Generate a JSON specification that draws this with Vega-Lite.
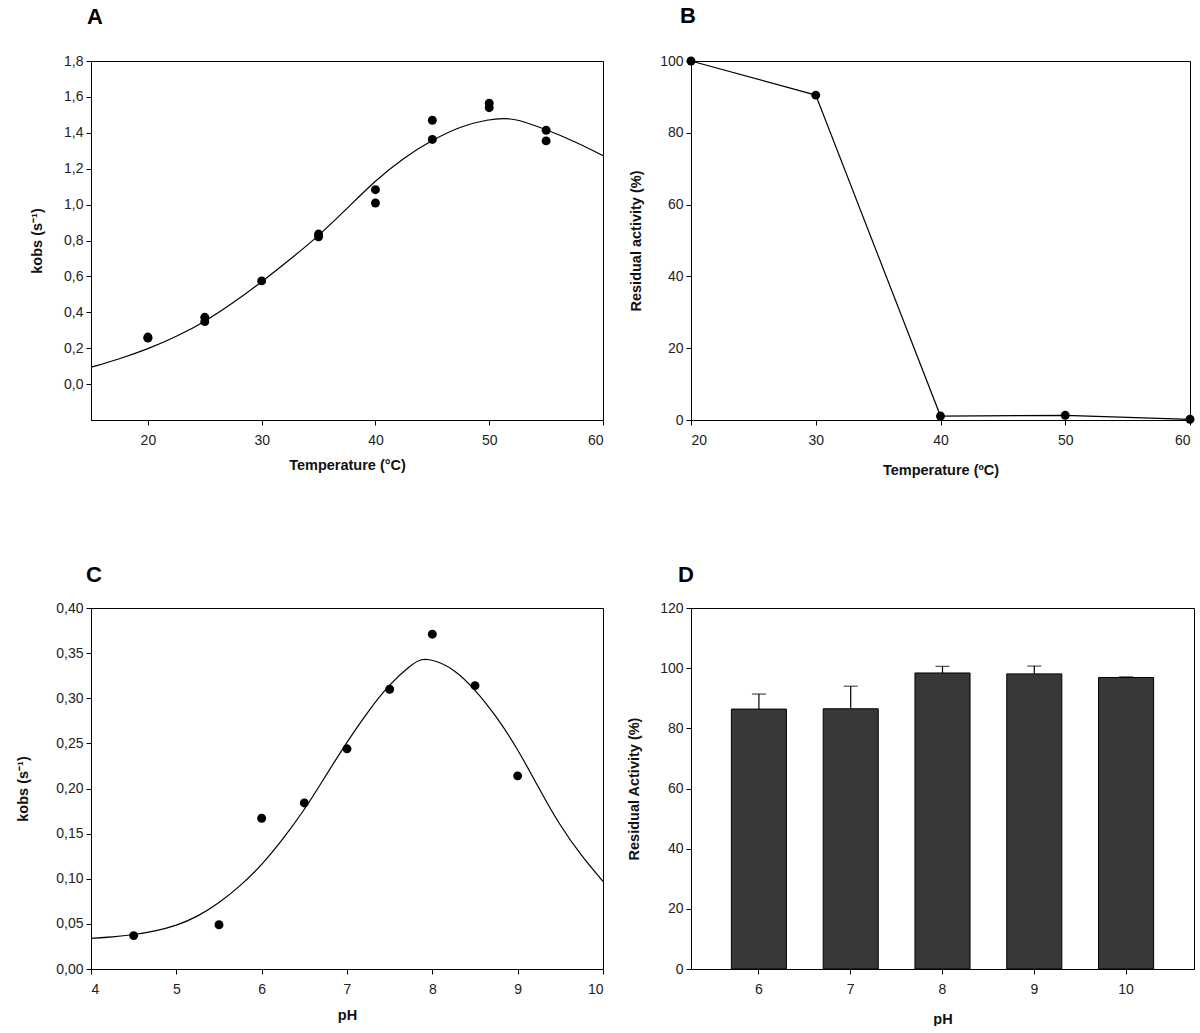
{
  "$schema": "https://vega.github.io/schema/vega-lite/v6.json",
  "background": "white",
  "padding": {"left": 15, "top": 4, "right": 0, "bottom": 0},
  "columns": 2,
  "align": "each",
  "spacing": {"row": 86, "column": 22},
  "datasets": {
    "tempPts": [
      {"t": 20, "k": 0.262}, {"t": 20, "k": 0.256},
      {"t": 25, "k": 0.372}, {"t": 25, "k": 0.348},
      {"t": 30, "k": 0.575},
      {"t": 35, "k": 0.836}, {"t": 35, "k": 0.821},
      {"t": 40, "k": 1.083}, {"t": 40, "k": 1.009},
      {"t": 45, "k": 1.47}, {"t": 45, "k": 1.363},
      {"t": 50, "k": 1.565}, {"t": 50, "k": 1.54},
      {"t": 55, "k": 1.414}, {"t": 55, "k": 1.355}
    ],
    "tempFit": [
      {"t": 15, "k": 0.094}, {"t": 17.5, "k": 0.14}, {"t": 20, "k": 0.195},
      {"t": 22.5, "k": 0.264}, {"t": 25, "k": 0.347}, {"t": 27.5, "k": 0.452},
      {"t": 30, "k": 0.569}, {"t": 32.5, "k": 0.695}, {"t": 35, "k": 0.825},
      {"t": 37.5, "k": 0.978}, {"t": 40, "k": 1.135}, {"t": 42.5, "k": 1.262},
      {"t": 45, "k": 1.36}, {"t": 47.5, "k": 1.438}, {"t": 50, "k": 1.475},
      {"t": 51.2, "k": 1.481}, {"t": 52.5, "k": 1.476}, {"t": 55, "k": 1.418},
      {"t": 57.5, "k": 1.353}, {"t": 60, "k": 1.273}
    ],
    "stability": [
      {"t": 20, "r": 100}, {"t": 30, "r": 90.5}, {"t": 40, "r": 1.1},
      {"t": 50, "r": 1.3}, {"t": 60, "r": 0.2}
    ],
    "phPts": [
      {"ph": 4.5, "k": 0.037}, {"ph": 5.5, "k": 0.049}, {"ph": 6, "k": 0.167},
      {"ph": 6.5, "k": 0.184}, {"ph": 7, "k": 0.244}, {"ph": 7.5, "k": 0.310},
      {"ph": 8, "k": 0.371}, {"ph": 8.5, "k": 0.314}, {"ph": 9, "k": 0.214}
    ],
    "phFit": [
      {"ph": 4, "k": 0.034}, {"ph": 4.25, "k": 0.0355}, {"ph": 4.5, "k": 0.038},
      {"ph": 4.75, "k": 0.042}, {"ph": 5, "k": 0.048}, {"ph": 5.25, "k": 0.058},
      {"ph": 5.5, "k": 0.073}, {"ph": 5.75, "k": 0.092}, {"ph": 6, "k": 0.115},
      {"ph": 6.25, "k": 0.144}, {"ph": 6.5, "k": 0.176}, {"ph": 6.75, "k": 0.214},
      {"ph": 7, "k": 0.2516}, {"ph": 7.25, "k": 0.286}, {"ph": 7.5, "k": 0.316},
      {"ph": 7.75, "k": 0.337}, {"ph": 7.87, "k": 0.344}, {"ph": 8, "k": 0.343},
      {"ph": 8.25, "k": 0.333}, {"ph": 8.5, "k": 0.310}, {"ph": 8.75, "k": 0.280},
      {"ph": 9, "k": 0.244}, {"ph": 9.25, "k": 0.200}, {"ph": 9.5, "k": 0.158},
      {"ph": 9.75, "k": 0.125}, {"ph": 10, "k": 0.097}
    ],
    "phStab": [
      {"ph": "6", "r": 86.4, "up": 91.4},
      {"ph": "7", "r": 86.5, "up": 94.0},
      {"ph": "8", "r": 98.4, "up": 100.6},
      {"ph": "9", "r": 98.1, "up": 100.7},
      {"ph": "10", "r": 96.9, "up": 97.1}
    ]
  },
  "concat": [
    {
      "width": 512, "height": 359,
      "title": {"text": "A", "anchor": "start", "frame": "group", "fontSize": 22, "font": "Liberation Sans", "fontWeight": "bold", "offset": 25, "dx": -4},
      "layer": [
        {
          "data": {"name": "tempFit"},
          "mark": {"type": "line", "color": "black", "strokeWidth": 1.2, "interpolate": "basis", "clip": true},
          "encoding": {
            "x": {"field": "t", "type": "quantitative", "scale": {"domain": [15, 60], "nice": false}, "axis": {"values": [20, 30, 40, 50, 60], "tickCount": 20, "title": "Temperature (°C)", "titlePadding": 11}},
            "y": {"field": "k", "type": "quantitative", "scale": {"domain": [-0.2, 1.8], "nice": false, "zero": false}, "axis": {"values": [0, 0.2, 0.4, 0.6, 0.8, 1.0, 1.2, 1.4, 1.6, 1.8], "tickCount": 20, "labelOverlap": false, "labelExpr": "replace(format(datum.value, '.1f'), '.', ',')", "title": "kobs (s⁻¹)", "titlePadding": 19}}
          }
        },
        {
          "data": {"name": "tempPts"},
          "mark": {"type": "point", "filled": true, "color": "black", "size": 80, "opacity": 1},
          "encoding": {
            "x": {"field": "t", "type": "quantitative"},
            "y": {"field": "k", "type": "quantitative"}
          }
        }
      ]
    },
    {
      "width": 499, "height": 359,
      "title": {"text": "B", "anchor": "start", "frame": "group", "fontSize": 22, "font": "Liberation Sans", "fontWeight": "bold", "offset": 26, "dx": -11},
      "layer": [
        {
          "data": {"name": "stability"},
          "mark": {"type": "line", "color": "black", "strokeWidth": 1.2},
          "encoding": {
            "x": {"field": "t", "type": "quantitative", "scale": {"domain": [20, 60], "nice": false}, "axis": {"values": [20, 30, 40, 50, 60], "tickCount": 20, "title": "Temperature (ºC)", "titlePadding": 16}},
            "y": {"field": "r", "type": "quantitative", "scale": {"domain": [0, 100], "nice": false}, "axis": {"values": [0, 20, 40, 60, 80, 100], "tickCount": 20, "title": "Residual activity (%)", "titlePadding": 16}}
          }
        },
        {
          "data": {"name": "stability"},
          "mark": {"type": "point", "filled": true, "color": "black", "size": 80, "opacity": 1},
          "encoding": {
            "x": {"field": "t", "type": "quantitative"},
            "y": {"field": "r", "type": "quantitative"}
          }
        }
      ]
    },
    {
      "width": 512, "height": 361,
      "title": {"text": "C", "anchor": "start", "frame": "group", "fontSize": 22, "font": "Liberation Sans", "fontWeight": "bold", "offset": 14, "dx": -5},
      "layer": [
        {
          "data": {"name": "phFit"},
          "mark": {"type": "line", "color": "black", "strokeWidth": 1.2, "interpolate": "basis", "clip": true},
          "encoding": {
            "x": {"field": "ph", "type": "quantitative", "scale": {"domain": [4, 10], "nice": false}, "axis": {"values": [4, 5, 6, 7, 8, 9, 10], "tickCount": 20, "format": "d", "title": "pH", "titlePadding": 12}},
            "y": {"field": "k", "type": "quantitative", "scale": {"domain": [0, 0.4], "nice": false}, "axis": {"values": [0, 0.05, 0.1, 0.15, 0.2, 0.25, 0.3, 0.35, 0.4], "tickCount": 20, "labelOverlap": false, "labelExpr": "replace(format(datum.value, '.2f'), '.', ',')", "title": "kobs (s⁻¹)", "titlePadding": 25}}
          }
        },
        {
          "data": {"name": "phPts"},
          "mark": {"type": "point", "filled": true, "color": "black", "size": 80, "opacity": 1},
          "encoding": {
            "x": {"field": "ph", "type": "quantitative"},
            "y": {"field": "k", "type": "quantitative"}
          }
        }
      ]
    },
    {
      "width": 503, "height": 361,
      "title": {"text": "D", "anchor": "start", "frame": "group", "fontSize": 22, "font": "Liberation Sans", "fontWeight": "bold", "offset": 14, "dx": -13},
      "data": {"name": "phStab"},
      "layer": [
        {
          "mark": {"type": "rule", "color": "black", "strokeWidth": 1.2},
          "encoding": {
            "x": {"field": "ph", "type": "ordinal", "sort": ["6", "7", "8", "9", "10"], "scale": {"paddingInner": 0.4, "paddingOuter": 0.44}, "axis": {"labelAngle": 0, "title": "pH", "titlePadding": 16}},
            "y": {"field": "r", "type": "quantitative"},
            "y2": {"field": "up"}
          }
        },
        {
          "mark": {"type": "tick", "color": "black", "thickness": 1.2, "size": 14, "orient": "horizontal"},
          "encoding": {
            "x": {"field": "ph", "type": "ordinal", "sort": ["6", "7", "8", "9", "10"]},
            "y": {"field": "up", "type": "quantitative"}
          }
        },
        {
          "mark": {"type": "bar", "fill": "#383838", "stroke": "black", "strokeWidth": 1},
          "encoding": {
            "x": {"field": "ph", "type": "ordinal", "sort": ["6", "7", "8", "9", "10"]},
            "y": {"field": "r", "type": "quantitative", "scale": {"domain": [0, 120], "nice": false}, "axis": {"values": [0, 20, 40, 60, 80, 100, 120], "tickCount": 20, "title": "Residual Activity (%)", "titlePadding": 18}}
          }
        }
      ]
    }
  ],
  "config": {
    "view": {"stroke": "black", "strokeWidth": 1},
    "axis": {
      "grid": false,
      "labelOverlap": false,
      "domainColor": "black",
      "tickColor": "black",
      "tickSize": 5,
      "labelFont": "Liberation Sans",
      "titleFont": "Liberation Sans",
      "labelFontSize": 14,
      "titleFontSize": 14.5,
      "labelColor": "#222",
      "titleColor": "#111",
      "titleFontWeight": "bold"
    },
    "axisX": {"labelPadding": 8},
    "axisY": {"labelPadding": 3}
  }
}
